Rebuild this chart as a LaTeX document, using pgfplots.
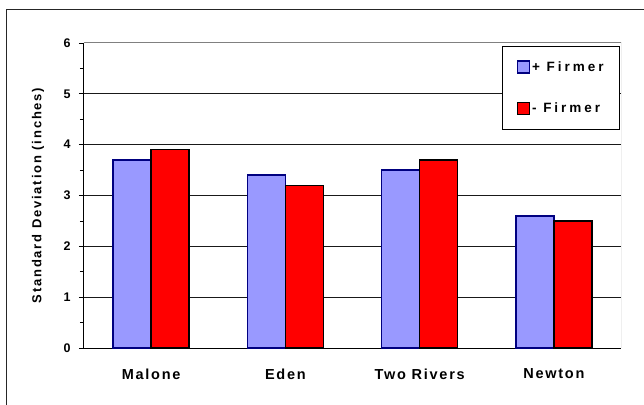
\documentclass[border=0pt]{standalone}
\usepackage{fontspec}
\setmainfont{Liberation Sans}
\newfontfamily\lsA[LetterSpace=12]{Liberation Sans}
\newfontfamily\lsB[LetterSpace=22]{Liberation Sans}
\newfontfamily\lsC[LetterSpace=14]{Liberation Sans}
\usepackage{pgfplots}
\pgfplotsset{compat=1.18}
\definecolor{barblue}{HTML}{9999FF}
\definecolor{edgeblue}{HTML}{000080}
\definecolor{barred}{HTML}{FF0000}
\begin{document}
\begin{tikzpicture}
\begin{axis}[name=ax, scale only axis, width=537pt, height=305pt,
  ybar=0pt, bar width=38pt,
  xmin=-0.5, xmax=3.5, ymin=0, ymax=6,
  axis lines=left, axis line style={-, black, line width=1pt},
  xtick={0,1,2,3}, xticklabels={Malone,Eden,Two Rivers,Newton},
  x tick style={draw=none},
  extra x ticks={-0.5,0.5,1.5,2.5,3.5}, extra x tick labels={},
  extra x tick style={tick style={draw=black, line width=1pt}, major tick length=6pt},
  ytick={0,1,2,3,4,5,6}, minor y tick num=1,
  tick align=outside, major tick length=5pt, minor tick length=4pt,
  y tick style={black, line width=0.8pt},
  ymajorgrids, grid style={black!90, line width=1pt},
  /pgf/number format/assume math mode=true,
  yticklabel style={font=\bfseries\fontsize{12.5pt}{14pt}\selectfont, xshift=-5pt},
  xticklabel style={font=\lsA\bfseries\fontsize{14.5pt}{16pt}\selectfont, anchor=center, yshift=-21pt},
  ylabel={Standard Deviation (inches)},
  ylabel style={font=\lsC\bfseries\fontsize{13pt}{15pt}\selectfont, at={(axis description cs:-0.0857,0.5)}, anchor=center},
  legend style={at={(0.998,0.99)}, anchor=north east, draw=black, line width=0.8pt,
    inner xsep=14pt, inner ysep=13pt, row sep=26pt,
    font=\lsB\bfseries\fontsize{13.5pt}{15pt}\selectfont},
  legend cell align=left,
  legend image code/.code={\draw[#1, line width=1.4pt] (0pt,-6pt) rectangle (12pt,6pt);},
]
\addplot[fill=barblue, draw=edgeblue, line width=1.4pt] coordinates {(0,3.7) (1,3.4) (2,3.5) (3,2.6)};
\addplot[fill=barred, draw=black, line width=1.4pt] coordinates {(0,3.9) (1,3.2) (2,3.7) (3,2.5)};
\legend{+ Firmer, - Firmer}
\draw[gray, line width=1pt] (rel axis cs:0,1) -- (rel axis cs:1,1) -- (rel axis cs:1,0);
\end{axis}
\pgfresetboundingbox
\begin{scope}[shift={(ax.south west)}]
\useasboundingbox (-84pt,-56pt) rectangle (560pt,348pt);
\draw[black!85, line width=1pt] (-77pt,-70pt) -- (-77pt,338pt) -- (575pt,338pt);
\end{scope}
\end{tikzpicture}
\end{document}
